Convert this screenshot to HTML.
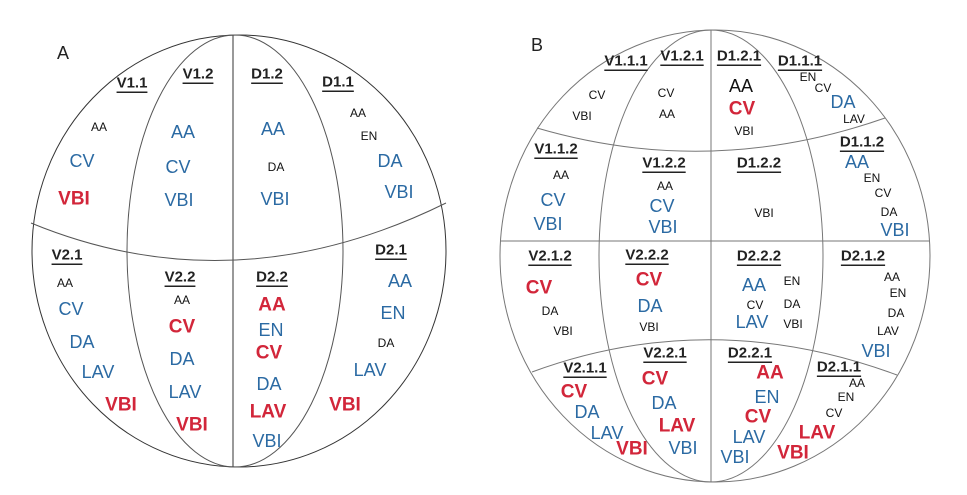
<!DOCTYPE html>
<html><head><meta charset="utf-8"><style>
html,body{margin:0;padding:0;background:#fff;}
svg{display:block;}
text{font-family:"Liberation Sans",Arial,sans-serif;text-anchor:middle;dominant-baseline:central;}
.l{font-weight:bold;font-size:15px;fill:#222;text-decoration:underline;}
.s{font-size:12px;fill:#111;}
.b{font-size:18px;fill:#2b6aa3;}
.r{font-size:19px;fill:#d2263a;font-weight:bold;}
.k{font-size:18px;fill:#111;}
</style></head><body>
<svg width="967" height="495" viewBox="0 0 967 495">
<g fill="none" stroke="#333" stroke-width="1">
<ellipse cx="239" cy="251" rx="207" ry="216"/>
<line x1="233" y1="35" x2="233" y2="467"/>
<ellipse cx="235" cy="251" rx="108" ry="216" stroke="#555"/>
<path d="M31,223 Q235,307 446,203" stroke="#555"/>
</g>
<g fill="none" stroke="#777" stroke-width="1">
<ellipse cx="715" cy="256" rx="215" ry="226"/>
<line x1="711" y1="30" x2="711" y2="482"/>
<ellipse cx="711" cy="256" rx="112" ry="226"/>
<line x1="500" y1="241" x2="930" y2="241"/>
<path d="M537,128 Q711,179 885,118"/>
<path d="M532,372 Q711,306 897,375"/>
</g>
<text x="63" y="53" style="font-size:18px;fill:#222">A</text>
<text x="537" y="45" style="font-size:18px;fill:#222">B</text>

<!-- A -->
<text class="l" x="132" y="83">V1.1</text>
<text class="l" x="198" y="74">V1.2</text>
<text class="l" x="267" y="74">D1.2</text>
<text class="l" x="338" y="82">D1.1</text>
<text class="s" x="99" y="127">AA</text>
<text class="b" x="82" y="161">CV</text>
<text class="r" x="74" y="199">VBI</text>
<text class="b" x="183" y="132">AA</text>
<text class="b" x="178" y="167">CV</text>
<text class="b" x="179" y="200">VBI</text>
<text class="b" x="273" y="129">AA</text>
<text class="s" x="276" y="167">DA</text>
<text class="b" x="275" y="199">VBI</text>
<text class="s" x="358" y="113">AA</text>
<text class="s" x="369" y="136">EN</text>
<text class="b" x="390" y="161">DA</text>
<text class="b" x="399" y="192">VBI</text>
<text class="l" x="67" y="255">V2.1</text>
<text class="s" x="65" y="283">AA</text>
<text class="b" x="71" y="309">CV</text>
<text class="b" x="82" y="342">DA</text>
<text class="b" x="98" y="372">LAV</text>
<text class="r" x="121" y="405">VBI</text>
<text class="l" x="180" y="277">V2.2</text>
<text class="s" x="182" y="300">AA</text>
<text class="r" x="182" y="327">CV</text>
<text class="b" x="182" y="359">DA</text>
<text class="b" x="185" y="392">LAV</text>
<text class="r" x="192" y="425">VBI</text>
<text class="l" x="272" y="277">D2.2</text>
<text class="r" x="272" y="305">AA</text>
<text class="b" x="271" y="330">EN</text>
<text class="r" x="269" y="353">CV</text>
<text class="b" x="269" y="384">DA</text>
<text class="r" x="268" y="412">LAV</text>
<text class="b" x="267" y="441">VBI</text>
<text class="l" x="391" y="250">D2.1</text>
<text class="b" x="400" y="281">AA</text>
<text class="b" x="393" y="313">EN</text>
<text class="s" x="386" y="343">DA</text>
<text class="b" x="370" y="370">LAV</text>
<text class="r" x="345" y="405">VBI</text>

<!-- B -->
<text class="l" x="626" y="61">V1.1.1</text>
<text class="l" x="682" y="56">V1.2.1</text>
<text class="l" x="739" y="56">D1.2.1</text>
<text class="l" x="800" y="61">D1.1.1</text>
<text class="s" x="597" y="95">CV</text>
<text class="s" x="582" y="116">VBI</text>
<text class="s" x="666" y="93">CV</text>
<text class="s" x="667" y="114">AA</text>
<text class="k" x="741" y="86">AA</text>
<text class="r" x="742" y="109">CV</text>
<text class="s" x="744" y="131">VBI</text>
<text class="s" x="808" y="77">EN</text>
<text class="s" x="823" y="88">CV</text>
<text class="b" x="843" y="102">DA</text>
<text class="s" x="854" y="119">LAV</text>
<text class="l" x="556" y="149">V1.1.2</text>
<text class="s" x="561" y="175">AA</text>
<text class="b" x="553" y="200">CV</text>
<text class="b" x="548" y="224">VBI</text>
<text class="l" x="664" y="163">V1.2.2</text>
<text class="s" x="665" y="186">AA</text>
<text class="b" x="662" y="206">CV</text>
<text class="b" x="663" y="227">VBI</text>
<text class="l" x="759" y="163">D1.2.2</text>
<text class="s" x="764" y="213">VBI</text>
<text class="l" x="862" y="142">D1.1.2</text>
<text class="b" x="857" y="162">AA</text>
<text class="s" x="872" y="178">EN</text>
<text class="s" x="883" y="193">CV</text>
<text class="s" x="889" y="212">DA</text>
<text class="b" x="895" y="230">VBI</text>
<text class="l" x="550" y="256">V2.1.2</text>
<text class="r" x="539" y="288">CV</text>
<text class="s" x="550" y="311">DA</text>
<text class="s" x="563" y="331">VBI</text>
<text class="l" x="647" y="255">V2.2.2</text>
<text class="r" x="649" y="280">CV</text>
<text class="b" x="650" y="306">DA</text>
<text class="s" x="649" y="327">VBI</text>
<text class="l" x="759" y="256">D2.2.2</text>
<text class="b" x="754" y="285">AA</text>
<text class="s" x="755" y="305">CV</text>
<text class="b" x="752" y="322">LAV</text>
<text class="s" x="792" y="281">EN</text>
<text class="s" x="792" y="304">DA</text>
<text class="s" x="793" y="324">VBI</text>
<text class="l" x="863" y="256">D2.1.2</text>
<text class="s" x="892" y="277">AA</text>
<text class="s" x="898" y="293">EN</text>
<text class="s" x="896" y="313">DA</text>
<text class="s" x="888" y="331">LAV</text>
<text class="b" x="876" y="351">VBI</text>
<text class="l" x="585" y="368">V2.1.1</text>
<text class="r" x="574" y="392">CV</text>
<text class="b" x="587" y="412">DA</text>
<text class="b" x="607" y="433">LAV</text>
<text class="r" x="632" y="449">VBI</text>
<text class="l" x="665" y="353">V2.2.1</text>
<text class="r" x="655" y="379">CV</text>
<text class="b" x="664" y="403">DA</text>
<text class="r" x="677" y="426">LAV</text>
<text class="b" x="683" y="448">VBI</text>
<text class="l" x="750" y="353">D2.2.1</text>
<text class="r" x="770" y="373">AA</text>
<text class="b" x="767" y="397">EN</text>
<text class="r" x="758" y="417">CV</text>
<text class="b" x="749" y="437">LAV</text>
<text class="b" x="735" y="457">VBI</text>
<text class="l" x="839" y="367">D2.1.1</text>
<text class="s" x="857" y="383">AA</text>
<text class="s" x="846" y="397">EN</text>
<text class="s" x="834" y="413">CV</text>
<text class="r" x="817" y="433">LAV</text>
<text class="r" x="793" y="453">VBI</text>
</svg>
</body></html>
